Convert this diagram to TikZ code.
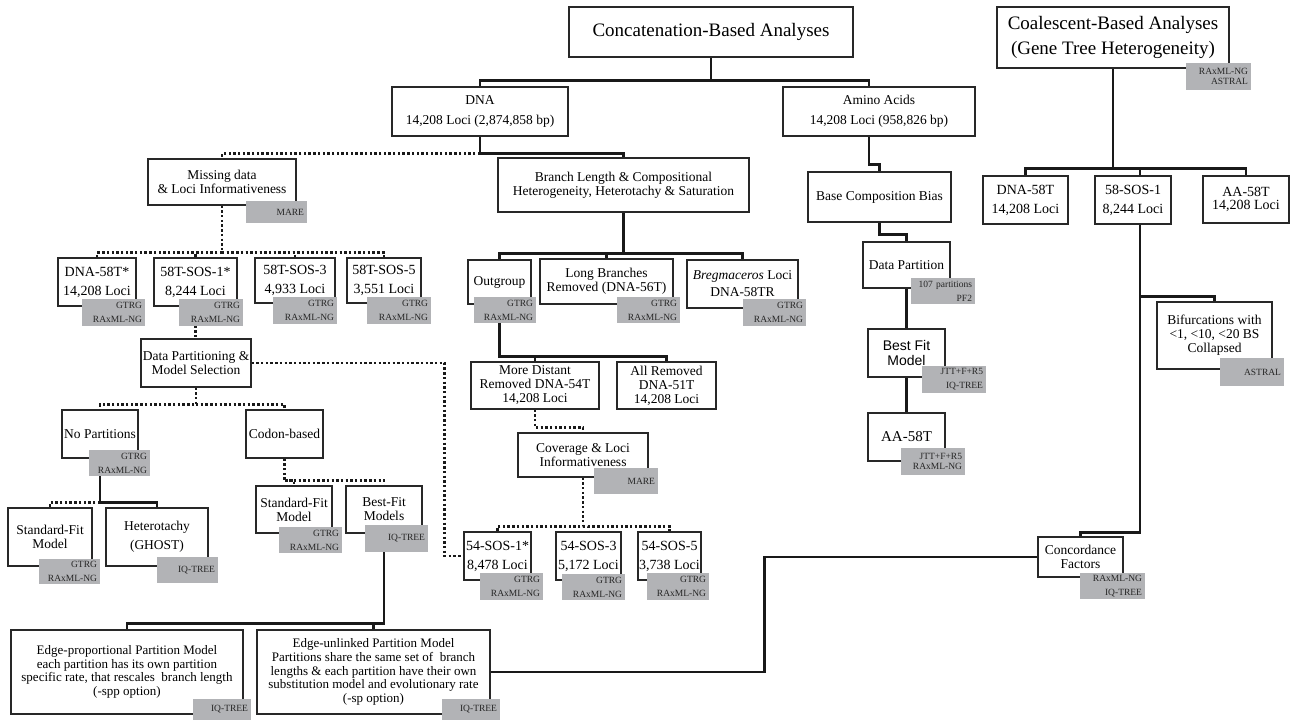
\documentclass[tikz,border=0pt]{standalone}
\usepackage{fontspec}
\setmainfont{Liberation Serif}
\newfontfamily\bestfitfont{Liberation Sans}
\usepackage{tikz}
\usetikzlibrary{backgrounds}
\usepackage{xcolor}
\definecolor{tagray}{RGB}{178,179,182}
\definecolor{boxline}{RGB}{40,40,40}
\definecolor{linkblack}{RGB}{25,25,25}
\newcommand{\headfont}{\fontsize{19}{25}\selectfont}
\newcommand{\stagefont}{\fontsize{13.5}{14}\selectfont}
\newcommand{\locifont}{\fontsize{14}{19}\selectfont}
\newcommand{\toolfont}{\fontsize{9.5}{14}\selectfont}
\tikzstyle{stagebox} = [rectangle, draw=boxline, line width=1.3pt, align=center, inner sep=0pt, font=\stagefont]
\tikzstyle{headbox} = [stagebox, font=\headfont]
\tikzstyle{locibox} = [stagebox, font=\locifont]
\tikzstyle{toolbox} = [rectangle, fill=tagray, text=black!85, align=right, inner xsep=3pt, inner ysep=0pt, text width=58pt, minimum height=27pt, font=\toolfont]
\tikzstyle{solidlink} = [line width=2.6pt, color=linkblack]
\tikzstyle{dotlink} = [line width=2.6pt, color=linkblack, dash pattern=on 2.4pt off 2.3pt]

\begin{document}
\begin{tikzpicture}[x=1pt, y=-1pt]
\useasboundingbox (0,0) rectangle (1290,720);
% Concatenation-based analyses
\node[headbox, minimum width=284, minimum height=50] (concat) at (711,32) {Concatenation-Based Analyses};
\node[stagebox, minimum width=176, minimum height=49, font=\fontsize{13.5}{20}\selectfont] (dna) at (480,111.5) {DNA\\14,208 Loci (2,874,858 bp)};
\node[stagebox, minimum width=192, minimum height=49, font=\fontsize{13.5}{20}\selectfont] (amino) at (879,111.5) {Amino Acids\\14,208 Loci (958,826 bp)};

% Amino acids branch
\node[stagebox, minimum width=143, minimum height=50] (basecomp) at (879.5,197) {Base Composition Bias};
\node[stagebox, minimum width=87, minimum height=46] (datapart) at (906.5,265) {Data Partition};
\node[toolbox, text width=58, minimum height=26] (datapartT) at (943,291) {107 partitions\\PF2};
\node[stagebox, minimum width=77, minimum height=48, font=\bestfitfont\fontsize{14}{15}\selectfont] (bestfit) at (906.5,353) {Best Fit\\Model};
\node[toolbox] (bestfitT) at (954,379.5) {JTT+F+R5\\IQ-TREE};
\node[stagebox, minimum width=77, minimum height=48, font=\fontsize{15}{16}\selectfont] (aaft) at (906.5,437) {AA-58T};
\node[toolbox, font=\fontsize{9.5}{10.7}\selectfont] (aaftT) at (933,461.5) {JTT+F+R5\\RAxML-NG};

% Missing data
\node[stagebox, minimum width=148, minimum height=46] (missing) at (222,182) {Missing data\\\& Loci Informativeness};
\node[toolbox, text width=55, minimum height=22] (missingT) at (276.5,212) {MARE};
\node[locibox, minimum width=78, minimum height=48] (dnaft) at (97,282) {DNA-58T*\\14,208 Loci};
\node[toolbox, text width=57] (dnaftT) at (113.5,312.5) {GTRG\\RAxML-NG};
\node[locibox, minimum width=83, minimum height=48] (tsosa) at (195.5,282) {58T-SOS-1*\\8,244 Loci};
\node[toolbox] (tsosaT) at (211,312.5) {GTRG\\RAxML-NG};
\node[locibox, minimum width=80, minimum height=45] (tsosc) at (295,280.5) {58T-SOS-3\\4,933 Loci};
\node[toolbox] (tsoscT) at (305,310.5) {GTRG\\RAxML-NG};
\node[locibox, minimum width=74, minimum height=45] (tsose) at (384,280.5) {58T-SOS-5\\3,551 Loci};
\node[toolbox] (tsoseT) at (399,310.5) {GTRG\\RAxML-NG};

% Partitioning
\node[stagebox, minimum width=110, minimum height=48] (dpms) at (196,363) {Data Partitioning \&\\Model Selection};
\node[stagebox, minimum width=76, minimum height=48] (nopart) at (100,434) {No Partitions};
\node[toolbox, text width=55, minimum height=26] (nopartT) at (119.5,463) {GTRG\\RAxML-NG};
\node[stagebox, minimum width=77, minimum height=48] (codon) at (284.5,434) {Codon-based};
\node[stagebox, minimum width=84, minimum height=58] (stdl) at (50,537) {Standard-Fit\\Model};
\node[toolbox, text width=55, minimum height=25] (stdlT) at (69.5,571.5) {GTRG\\RAxML-NG};
\node[stagebox, minimum width=102, minimum height=58, font=\fontsize{13.5}{19}\selectfont] (hetero) at (157,537) {Heterotachy\\(GHOST)};
\node[toolbox, text width=55, minimum height=26] (heteroT) at (187.5,570) {IQ-TREE};
\node[stagebox, minimum width=76, minimum height=47] (stdm) at (294,509.5) {Standard-Fit\\Model};
\node[toolbox, text width=57, minimum height=26] (stdmT) at (310.5,540) {GTRG\\RAxML-NG};
\node[stagebox, minimum width=76, minimum height=47] (bestm) at (384,509.5) {Best-Fit\\Models};
\node[toolbox, text width=57] (bestmT) at (396.5,538.5) {IQ-TREE};
\node[stagebox, minimum width=232, minimum height=84, font=\fontsize{13}{13.6}\selectfont] (edgeprop) at (127,672) {Edge-proportional Partition Model\\each partition has its own partition\\specific rate, that rescales\ \ branch length\\(-spp option)};
\node[toolbox, text width=52, minimum height=21] (edgepropT) at (222,709.5) {IQ-TREE};
\node[stagebox, minimum width=233, minimum height=84, font=\fontsize{13}{13.6}\selectfont] (edgeunl) at (373.5,672) {Edge-unlinked Partition Model\\Partitions share the same set of\ \ branch\\lengths \& each partition have their own\\substitution model and evolutionary rate\\(-sp option)};
\node[toolbox, text width=52, minimum height=21] (edgeunlT) at (471,709.5) {IQ-TREE};

% Heterogeneity
\node[stagebox, minimum width=251, minimum height=54] (branch) at (623.5,185) {Branch Length \& Compositional\\Heterogeneity, Heterotachy \& Saturation};
\node[stagebox, minimum width=63, minimum height=44] (outgroup) at (499.5,282) {Outgroup};
\node[toolbox, text width=56, minimum height=26] (outgroupT) at (505,310) {GTRG\\RAxML-NG};
\node[stagebox, minimum width=133, minimum height=45] (longbr) at (606.5,281.5) {Long Branches\\Removed (DNA-56T)};
\node[toolbox, text width=57, minimum height=26] (longbrT) at (648.5,310) {GTRG\\RAxML-NG};
\node[stagebox, minimum width=111, minimum height=48, font=\fontsize{13.5}{17}\selectfont] (bregma) at (742.5,284) {\textit{Bregmaceros} Loci\\DNA-58TR};
\node[toolbox, text width=57] (bregmaT) at (774.5,312.5) {GTRG\\RAxML-NG};
\node[stagebox, minimum width=128, minimum height=47] (moredist) at (535,385.5) {More Distant\\Removed DNA-54T\\14,208 Loci};
\node[stagebox, minimum width=99, minimum height=47] (allrem) at (666.5,385.5) {All Removed\\DNA-51T\\14,208 Loci};
\node[stagebox, minimum width=130, minimum height=44] (cover) at (583,455) {Coverage \& Loci\\Informativeness};
\node[toolbox, minimum height=26] (coverT) at (626,481) {MARE};
\node[locibox, minimum width=67, minimum height=48] (fsosa) at (497.5,556) {54-SOS-1*\\8,478 Loci};
\node[toolbox, text width=57] (fsosaT) at (511.5,586.5) {GTRG\\RAxML-NG};
\node[locibox, minimum width=65, minimum height=48] (fsosc) at (588.5,556) {54-SOS-3\\5,172 Loci};
\node[toolbox, text width=57, minimum height=26] (fsoscT) at (593.5,587) {GTRG\\RAxML-NG};
\node[locibox, minimum width=63, minimum height=48] (fsose) at (669.5,556) {54-SOS-5\\3,738 Loci};
\node[toolbox, text width=56] (fsoseT) at (678,586.5) {GTRG\\RAxML-NG};

% Coalescent-based analyses
\node[headbox, minimum width=232, minimum height=61] (coal) at (1113,37.5) {Coalescent-Based Analyses\\(Gene Tree Heterogeneity)};
\node[toolbox, text width=59, font=\fontsize{9.5}{9.5}\selectfont] (coalT) at (1218.5,76.5) {RAxML-NG\\ASTRAL};
\node[locibox, minimum width=85, minimum height=48] (cdna) at (1025.5,200) {DNA-58T\\14,208 Loci};
\node[locibox, minimum width=76, minimum height=48] (csos) at (1133,200) {58-SOS-1\\8,244 Loci};
\node[stagebox, minimum width=86, minimum height=47, font=\fontsize{14}{13.5}\selectfont] (caa) at (1246,199.5) {AA-58T\\14,208 Loci};
\node[stagebox, minimum width=115, minimum height=67] (bifurc) at (1214.5,335.5) {Bifurcations with\\<1, <10, <20 BS\\Collapsed};
\node[toolbox, minimum height=28] (bifurcT) at (1252,372) {ASTRAL};
\node[stagebox, minimum width=85, minimum height=40] (concord) at (1080.5,557) {Concordance\\Factors};
\node[toolbox, text width=59, minimum height=26] (concordT) at (1112.5,586) {RAxML-NG\\IQ-TREE};

% Connectors
\begin{scope}[on background layer]
\draw[solidlink] (concat.south) -- ++(0,23) coordinate (cbar) -| (dna.north);
\draw[solidlink] (cbar) -| ([xshift=-10pt]amino.north);
\draw[solidlink] (dna.south) -- ++(0,17) coordinate (dbar) -| (branch.north);
\draw[dotlink] (dbar) -| (missing.north);
\draw[solidlink] ([xshift=-10pt]amino.south) -- ++(0,28) -| (basecomp.north);
\draw[solidlink] (basecomp.south) -- ++(0,12) -| (datapart.north);
\draw[solidlink] (datapart) -- (bestfit);
\draw[solidlink] (bestfit) -- (aaft);
\draw[solidlink] (branch.south) -- ++(0,41) coordinate (bbar) -| (outgroup.north);
\draw[solidlink] (bbar) -| (longbr.north);
\draw[solidlink] (bbar) -| (bregma.north);
\draw[solidlink] (outgroup.south) -- ++(0,52) coordinate (obar) -| (moredist.north);
\draw[solidlink] (obar) -| (allrem.north);
\draw[dotlink] (moredist.south) -- ++(0,18) -| (cover.north);
\draw[dotlink] (cover.south) -- ++(0,49) coordinate (vbar) -| (fsosa.north);
\draw[dotlink] (vbar) -| (fsosc.north);
\draw[dotlink] (vbar) -| (fsose.north);
\draw[dotlink] (missing.south) -- ++(0,47) coordinate (mbar) -| (dnaft.north);
\draw[dotlink] (mbar) -| (tsosa.north);
\draw[dotlink] (mbar) -| (tsosc.north);
\draw[dotlink] (mbar) -| (tsose.north);
\draw[dotlink] (tsosa.south) -- (tsosa.south |- dpms.north);
\draw[dotlink] (dpms.south) -- ++(0,17) coordinate (pbar) -| (nopart.north);
\draw[dotlink] (pbar) -| (codon.north);
\draw[dotlink] (dpms.east) -- ++(193,0) |- (fsosa.west);
\draw[solidlink] (nopart.south) -- ++(0,44) coordinate (nbar) -| (hetero.north);
\draw[dotlink] (nbar) -| (stdl.north);
\draw[dotlink] (codon.south) -- ++(0,22) coordinate (kbar) -| (stdm.north);
\draw[dotlink] (kbar) -| (bestm.north);
\draw[solidlink] (bestm.south) -- ++(0,90) coordinate (ebar) -| (edgeprop.north);
\draw[solidlink] (ebar) -| (edgeunl.north);
\draw[solidlink] (edgeunl.east) -- ++(274,0) |- (concord.west);
\draw[solidlink] (coal.south) -- ++(0,100) coordinate (qbar) -| (cdna.north);
\draw[solidlink] (qbar) -| ([xshift=7pt]csos.north);
\draw[solidlink] (qbar) -| (caa.north);
\draw[solidlink] ([xshift=7pt]csos.south) -- ++(0,72) coordinate (sbar) -| (bifurc.north);
\draw[solidlink] (sbar) -- ++(0,236) -| (concord.north);
\end{scope}
\end{tikzpicture}
\end{document}
